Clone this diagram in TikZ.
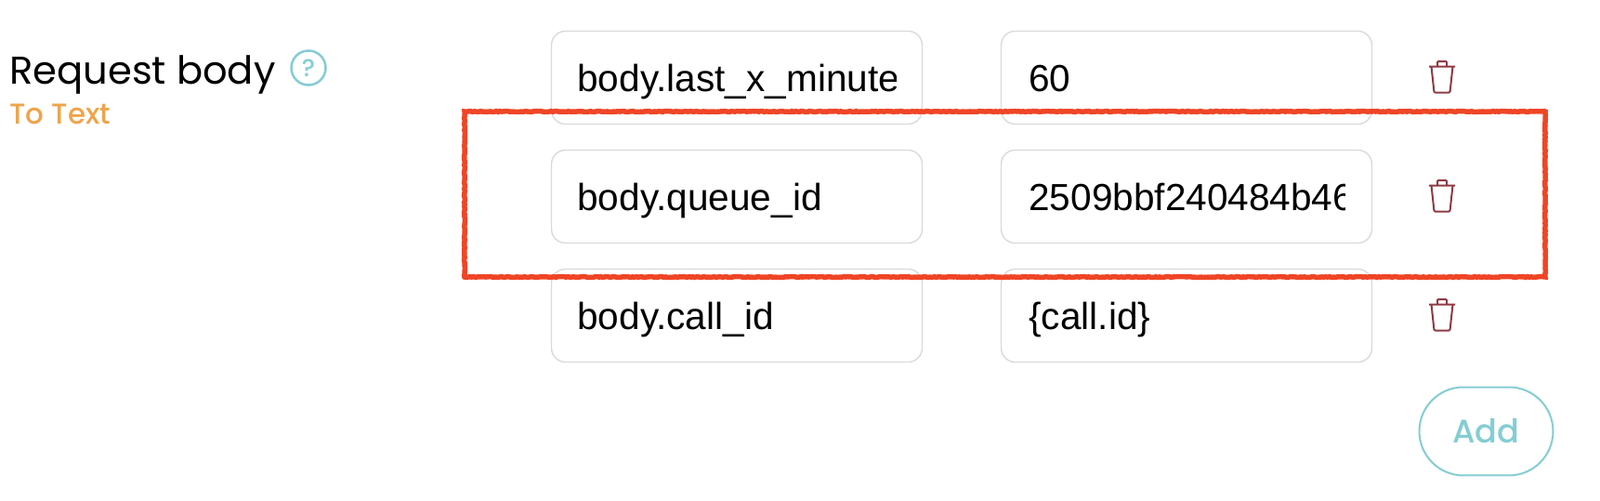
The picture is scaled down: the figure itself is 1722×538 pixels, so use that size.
\documentclass[tikz,border=0pt]{standalone}
\usepackage{fontspec}
\setmainfont{Liberation Sans}
\newfontfamily\labelfont{Poppins}
\newfontfamily\mediumfont{Poppins Medium}
\usetikzlibrary{decorations.pathmorphing}
\definecolor{tealline}{HTML}{84CDD3}
\definecolor{orangetext}{HTML}{EFA44A}
\definecolor{trashred}{HTML}{8E3A45}
\definecolor{boxgrey}{HTML}{DADADA}
\definecolor{markred}{HTML}{EF4526}
\tikzset{
  fieldbox/.style={draw=boxgrey, line width=0.028cm, rounded corners=0.3cm, minimum width=7.98cm, minimum height=2cm, inner sep=0pt},
  fieldtext/.style={anchor=base west, inner sep=0pt, font=\fontsize{23.1}{27}\selectfont},
  trash/.pic={
    \draw[trashred, line width=0.04cm, line join=round, rounded corners=0.02cm] (-14,-11) -- (14,-11)
        (-5,-11) -- (-5,-16.5) -- (5,-16.5) -- (5,-11)
        (-11.5,-11) -- (-8.5,17) -- (8.5,17) -- (11.5,-11);
  }
}
\begin{document}
\begin{tikzpicture}[x=0.02cm, y=-0.02cm]
\useasboundingbox (0,0) rectangle (1722,538);
% left labels
\node[anchor=base west, inner sep=0pt, font=\labelfont\fontsize{23.7}{28}\selectfont] (title) at (10,90) {Request body};
\node[anchor=base west, inner sep=0pt, text=orangetext, font=\mediumfont\fontsize{17.6}{20}\selectfont] (sub) at (10,133) {To Text};
\node[circle, draw=tealline, line width=0.05cm, minimum size=0.74cm, inner sep=0pt, text=tealline, font=\mediumfont\fontsize{15}{17}\selectfont] (help) at (332,73) {?};
% rows of fields
\foreach \name/\y in {A/83.5, B/211.5, C/339.5} {
  \node[fieldbox] (key\name) at (793,\y) {};
  \node[fieldbox] (val\name) at (1277,\y) {};
  \pic at (1552,\y-1) {trash};
}
\begin{scope}
  \clip (621,33) rectangle (964,133);
  \node[fieldtext] (keyAtext) at (621,98) {body.last\_x\_minute};
\end{scope}
\node[fieldtext] (keyBtext) at (621,226) {body.queue\_id};
\node[fieldtext] (keyCtext) at (621,354) {body.call\_id};
\node[fieldtext] (valAtext) at (1107,98) {60};
\begin{scope}
  \clip (1107,161) rectangle (1447,261);
  \node[fieldtext] (valBtext) at (1107,226) {2509bbf240484b46};
\end{scope}
\node[fieldtext] (valCtext) at (1107,354) {\{call.id\}};
% add button
\node[draw=tealline, line width=0.04cm, rounded corners=0.95cm, minimum width=2.88cm, minimum height=1.9cm, inner sep=0pt, text=tealline, font=\mediumfont\fontsize{20}{24}\selectfont] (add) at (1599.5,464) {\raisebox{1pt}{Add}};
% red mark
\draw[markred, line width=0.11cm, decorate, decoration={random steps, segment length=1.2pt, amplitude=0.25pt}] (500,120) -- (1663,120) -- (1663,298) -- (500,298) -- cycle;
\end{tikzpicture}
\end{document}
